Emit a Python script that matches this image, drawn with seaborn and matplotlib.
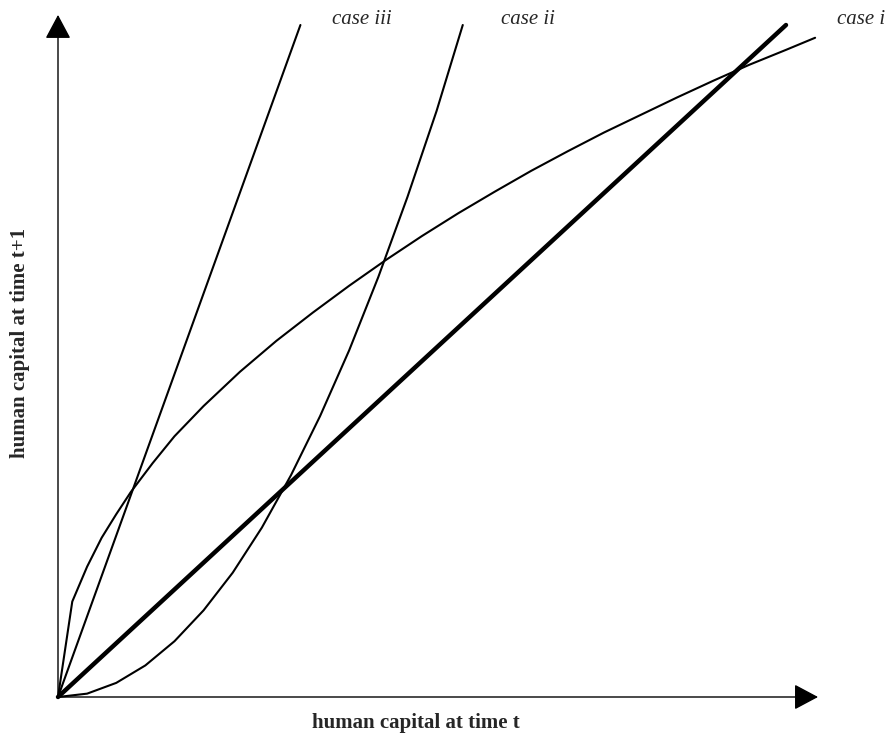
import matplotlib
matplotlib.use("Agg")
import matplotlib.pyplot as plt
import pandas as pd
import seaborn as sns

# values (x = human capital at t, y = at t+1, axes scaled to 1)
diag_x = [0.0, 1.0]
diag_y = [0.0, 1.0]

case_iii_x = [0.0, 0.333]
case_iii_y = [0.0, 1.0]

case_ii_x = [0.0, 0.04, 0.08, 0.12, 0.16, 0.20, 0.24, 0.28, 0.32, 0.36, 0.40, 0.44, 0.48, 0.52, 0.556]
case_ii_y = [0.0, 0.005, 0.021, 0.047, 0.083, 0.129, 0.185, 0.252, 0.330, 0.418, 0.516, 0.625, 0.744, 0.872, 1.0]

case_i_x = [0.0, 0.0196, 0.04, 0.06, 0.08, 0.10, 0.13, 0.16, 0.20, 0.25, 0.30, 0.35, 0.40, 0.45,
            0.50, 0.55, 0.60, 0.65, 0.70, 0.75, 0.80, 0.85, 0.90, 0.95, 1.00, 1.04]
case_i_y = [0.0, 0.142, 0.194, 0.237, 0.272, 0.305, 0.348, 0.388, 0.433, 0.484, 0.530, 0.572, 0.612, 0.650,
            0.686, 0.720, 0.752, 0.783, 0.812, 0.840, 0.866, 0.892, 0.917, 0.941, 0.963, 0.981]

case_labels = ["case iii", "case ii", "case i"]

sns.set_theme(style="white")
plt.rcParams["font.family"] = ["Liberation Serif", "DejaVu Serif"]

W, H = 890, 741
fig = plt.figure(figsize=(W / 100, H / 100), dpi=100)
# data origin sits at pixel (58, 697), (1, 1) at pixel (786, 25)
ax = fig.add_axes([58 / W, (H - 697) / H, 728 / W, 672 / H])
ax.set_xlim(0, 1)
ax.set_ylim(0, 1)
ax.axis("off")

def draw(xs, ys, lw):
    df = pd.DataFrame({"x": xs, "y": ys})
    sns.lineplot(data=df, x="x", y="y", ax=ax, color="black", lw=lw,
                 sort=False, estimator=None, clip_on=False)

draw(diag_x, diag_y, 3.2)
draw(case_iii_x, case_iii_y, 1.5)
draw(case_ii_x, case_ii_y, 1.5)
draw(case_i_x, case_i_y, 1.5)

# axes drawn as arrows
arrow = dict(arrowstyle="-|>,head_length=0.75,head_width=0.4", color="#333333",
             lw=1.0, mutation_scale=20, shrinkA=0, shrinkB=0, fc="black", ec="black")
ax.annotate("", xy=(1.044, 0), xytext=(0, 0), xycoords="data",
            arrowprops=arrow, annotation_clip=False)
ax.annotate("", xy=(0, 1.015), xytext=(0, 0), xycoords="data",
            arrowprops=arrow, annotation_clip=False)

# texts, positioned in figure pixels
def px(x, y):
    return x / W, 1 - y / H

fig.text(*px(416, 728), "human capital at time t", ha="center", va="baseline",
         fontsize=15, fontweight="bold")
fig.text(*px(20, 343), "human capital at time t+1", ha="center", va="center",
         rotation=90, fontsize=15, fontweight="bold")
for lab, x0 in zip(case_labels, [332, 501, 837]):
    fig.text(*px(x0, 24), lab, ha="left", va="baseline", fontsize=15, style="italic")

fig.savefig("out.png", dpi=100)
